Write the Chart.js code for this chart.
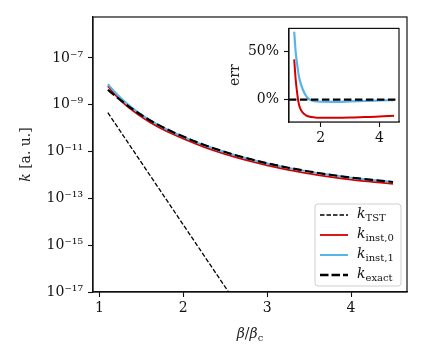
<!DOCTYPE html>
<html><head><meta charset="utf-8">
<script src="https://cdn.jsdelivr.net/npm/chart.js@4"></script>
<style>
html,body{margin:0;padding:0;background:#fff;}
#wrap{position:relative;width:425px;height:360px;}
#main{position:absolute;left:0;top:0;}
#inset{position:absolute;left:225px;top:15px;}
</style></head>
<body><div id="wrap"><canvas id="main" width="425" height="360"></canvas><canvas id="inset" width="182" height="140"></canvas></div>
<script>
// ---- data ----
const betaMain = [1.1,1.2,1.3,1.4,1.5,1.6,1.8,2.0,2.25,2.5,2.75,3.0,3.25,3.5,3.75,4.0,4.25,4.5];
const kExact = [4.37e-9,2.19e-9,1.15e-9,6.31e-10,3.63e-10,2.19e-10,9.12e-11,4.37e-11,1.91e-11,9.55e-12,5.25e-12,3.16e-12,2.04e-12,1.41e-12,1.02e-12,7.76e-13,6.17e-13,5.01e-13];
const kInst1 = [7.47e-9,3.00e-9,1.37e-9,6.94e-10,3.78e-10,2.20e-10,8.96e-11,4.27e-11,1.86e-11,9.32e-12,5.13e-12,3.10e-12,2.01e-12,1.39e-12,1.01e-12,7.68e-13,6.12e-13,4.98e-13];
const kInst0 = [6.21e-9,2.37e-9,1.06e-9,5.49e-10,3.05e-10,1.81e-10,7.43e-11,3.54e-11,1.55e-11,7.74e-12,4.26e-12,2.57e-12,1.66e-12,1.15e-12,8.36e-13,6.38e-13,5.10e-13,4.16e-13];
const betaTST = [1.1,1.5,2.0,2.5,3.0];
const kTST = [4.57e-10,3.39e-12,7.41e-15,1.62e-17,3.55e-20];

const betaErr = [1.1,1.15,1.2,1.25,1.3,1.4,1.5,1.6,1.8,2.0,2.5,3.0,3.5,4.0,4.5];
const errInst1 = [71,50,37,26,19,10,4,0.5,-1.8,-2.3,-2.4,-2.0,-1.5,-1.0,-0.6];
const errInst0 = [42,21,7,-3.5,-9,-14,-16.5,-17.8,-18.7,-19,-19,-18.8,-18.3,-17.8,-17];
const errExactX = [0.92,4.68];
const errExact = [0,0];

const xTicksMain = [1,2,3,4];
const yTickExps = [-17,-15,-13,-11,-9,-7];
const xTicksInset = [2,4];
const yTicksInset = [0,50];

// ---- helpers ----
const FONT = '"DejaVu Serif", "Liberation Serif", serif';
const RED = '#d20000', BLUE = '#56b4e9';
const pts = (xs, ys) => xs.map((x,i)=>({x:x, y:ys[i]}));
const SUP = {'-':'⁻','0':'⁰','1':'¹','2':'²','3':'³','4':'⁴','5':'⁵','6':'⁶','7':'⁷','8':'⁸','9':'⁹'};
const supStr = s => String(s).split('').map(c=>SUP[c]||c).join('');

function drawRich(ctx, runs, x, y, align){
  let w = 0;
  runs.forEach(r=>{ctx.font=r.font; w += ctx.measureText(r.text).width;});
  let cx = align==='center' ? x - w/2 : x;
  runs.forEach(r=>{ctx.font=r.font; ctx.fillText(r.text, cx, y + (r.dy||0)); cx += ctx.measureText(r.text).width;});
}
const it = s => 'italic '+s+'px '+FONT;
const rm = s => s+'px '+FONT;

const frame = {id:'frame', afterDatasetsDraw(chart){
  const {ctx, chartArea:a} = chart;
  ctx.save(); ctx.strokeStyle='#111'; ctx.lineWidth=1.2;
  ctx.strokeRect(a.left, a.top, a.right-a.left, a.bottom-a.top);
  ctx.restore();
}};

const mainDeco = {id:'mainDeco', afterDraw(chart){
  const ctx = chart.ctx, a = chart.chartArea;
  ctx.save();
  ctx.fillStyle = '#222'; ctx.textBaseline='alphabetic';
  // x title
  drawRich(ctx, [{text:'β',font:it(14)},{text:'/',font:rm(14)},{text:'β',font:it(14)},{text:'c',font:rm(10),dy:3}], (a.left+a.right)/2, 338, 'center');
  // y title
  ctx.save(); ctx.translate(30, (a.top+a.bottom)/2); ctx.rotate(-Math.PI/2);
  drawRich(ctx, [{text:'k',font:it(14)},{text:' [a. u.]',font:rm(14)}], 0, 0, 'center');
  ctx.restore();
  // legend
  const bx=315, by=204, bw=86, bh=82, r=3;
  ctx.beginPath();
  ctx.moveTo(bx+r,by); ctx.lineTo(bx+bw-r,by); ctx.quadraticCurveTo(bx+bw,by,bx+bw,by+r);
  ctx.lineTo(bx+bw,by+bh-r); ctx.quadraticCurveTo(bx+bw,by+bh,bx+bw-r,by+bh);
  ctx.lineTo(bx+r,by+bh); ctx.quadraticCurveTo(bx,by+bh,bx,by+bh-r);
  ctx.lineTo(bx,by+r); ctx.quadraticCurveTo(bx,by,bx+r,by); ctx.closePath();
  ctx.fillStyle='rgba(255,255,255,0.85)'; ctx.fill();
  ctx.strokeStyle='#cfcfcf'; ctx.lineWidth=1; ctx.stroke();
  const rows = [
    {color:'#000', w:1.3, dash:[4.5,2], sub:'TST'},
    {color:RED, w:1.8, dash:[], sub:'inst,0'},
    {color:BLUE, w:2, dash:[], sub:'inst,1'},
    {color:'#000', w:2.6, dash:[8.5,3], sub:'exact'}
  ];
  rows.forEach((rw,i)=>{
    const yc = 215 + i*20;
    ctx.beginPath(); ctx.setLineDash(rw.dash); ctx.strokeStyle=rw.color; ctx.lineWidth=rw.w;
    ctx.moveTo(320,yc); ctx.lineTo(348,yc); ctx.stroke();
    ctx.setLineDash([]);
    ctx.fillStyle='#111';
    drawRich(ctx, [{text:'k',font:it(14)},{text:rw.sub,font:rm(10),dy:3}], 357, yc+3, 'left');
  });
  ctx.restore();
}};

const lineDs = (label, xs, ys, color, w, dash, order) => ({
  label, data: pts(xs, ys), borderColor: color, borderWidth: w, borderDash: dash,
  pointRadius: 0, fill: false, cubicInterpolationMode: 'monotone', clip: 0, order
});

new Chart(document.getElementById('main'), {
  type: 'line',
  data: { datasets: [
    lineDs('k_TST', betaTST, kTST, '#000', 1.3, [4.5,2], 3),
    lineDs('k_inst,0', betaMain, kInst0, RED, 1.8, [], 2),
    lineDs('k_inst,1', betaMain, kInst1, BLUE, 2, [], 1),
    lineDs('k_exact', betaMain, kExact, '#000', 2.2, [8.5,3.5], 0)
  ]},
  options: {
    responsive: false, animation: false, devicePixelRatio: 1, events: [],
    layout: { padding: { top: 17, right: 18, left: 0, bottom: 0 } },
    plugins: { legend: { display: false }, tooltip: { enabled: false } },
    scales: {
      x: { type: 'linear', min: 0.923, max: 4.667,
        afterBuildTicks: s => { s.ticks = xTicksMain.map(v=>({value:v})); },
        afterFit: s => { s.height = 68; },
        ticks: { color:'#111', font:{family:FONT, size:14}, padding: 3, maxRotation:0, callback: v => String(v) },
        grid: { drawOnChartArea:false, drawTicks:true, tickLength:5, color:'#111', tickWidth:1.1 },
        border: { display:true, color:'#111', width:1.2 }
      },
      y: { type: 'logarithmic', min: 1e-17, max: 5.6e-6,
        afterBuildTicks: s => { s.ticks = yTickExps.map(e=>({value: Math.pow(10,e)})); },
        afterFit: s => { s.width = 93; },
        ticks: { color:'#111', font:{family:FONT, size:14}, padding: 5,
          callback: v => '10' + supStr(Math.round(Math.log10(v))) },
        grid: { drawOnChartArea:false, drawTicks:true, tickLength:5, color:'#111', tickWidth:1.1 },
        border: { display:true, color:'#111', width:1.2 }
      }
    }
  },
  plugins: [frame, mainDeco]
});

const insetDeco = {id:'insetDeco',
  beforeDatasetsDraw(chart){ const {ctx, chartArea:a}=chart; ctx.save(); ctx.fillStyle='#fff'; ctx.fillRect(a.left,a.top,a.right-a.left,a.bottom-a.top); ctx.restore(); },
  afterDraw(chart){
    const ctx = chart.ctx, a = chart.chartArea;
    ctx.save(); ctx.fillStyle='#222'; ctx.textBaseline='alphabetic';
    ctx.translate(14, (a.top+a.bottom)/2); ctx.rotate(-Math.PI/2);
    drawRich(ctx, [{text:'err',font:rm(14)}], 0, 0, 'center');
    ctx.restore();
  }};

new Chart(document.getElementById('inset'), {
  type: 'line',
  data: { datasets: [
    lineDs('err_exact', errExactX, errExact, '#000', 2.2, [7.5,3.5], 0),
    lineDs('err_inst,1', betaErr, errInst1, BLUE, 2.2, [], 1),
    lineDs('err_inst,0', betaErr, errInst0, RED, 2, [], 2)
  ]},
  options: {
    responsive: false, animation: false, devicePixelRatio: 1, events: [],
    layout: { padding: { top: 11, right: 8, left: 0, bottom: 0 } },
    plugins: { legend: { display: false }, tooltip: { enabled: false } },
    scales: {
      x: { type: 'linear', min: 0.923, max: 4.667,
        afterBuildTicks: s => { s.ticks = xTicksInset.map(v=>({value:v})); },
        afterFit: s => { s.height = 33; },
        ticks: { color:'#111', font:{family:FONT, size:14}, padding: 3, maxRotation:0, callback: v => String(v) },
        grid: { drawOnChartArea:false, drawTicks:true, tickLength:5, color:'#111', tickWidth:1.1 },
        border: { display:true, color:'#111', width:1.2 }
      },
      y: { type: 'linear', min: -23.5, max: 74.5,
        afterBuildTicks: s => { s.ticks = yTicksInset.map(v=>({value:v})); },
        afterFit: s => { s.width = 64; },
        ticks: { color:'#111', font:{family:FONT, size:14}, padding: 5, callback: v => v + '%' },
        grid: { drawOnChartArea:false, drawTicks:true, tickLength:5, color:'#111', tickWidth:1.1 },
        border: { display:true, color:'#111', width:1.2 }
      }
    }
  },
  plugins: [insetDeco, frame]
});
</script>
</body></html>
